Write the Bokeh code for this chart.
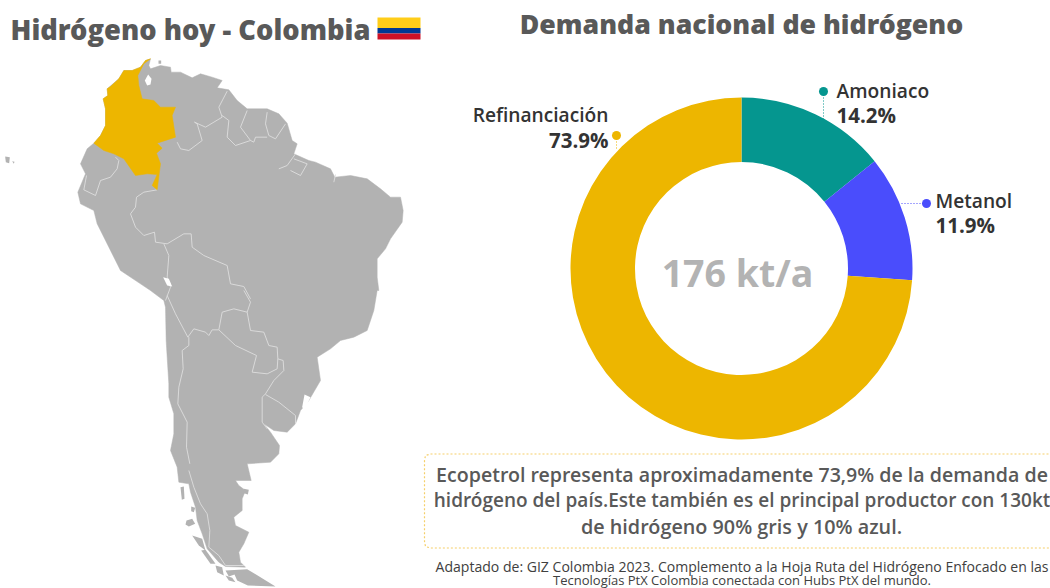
import numpy as np
from bokeh.plotting import figure
from bokeh.models import Range1d
from bokeh.core.properties import value
from bokeh.embed import file_html
from bokeh.resources import INLINE

# ---- data ----
categories = ["Amoniaco", "Metanol", "Refinanciación"]
shares = [14.2, 11.9, 73.9]
share_labels = ["14.2%", "11.9%", "73.9%"]
colors = ["#05968F", "#4A4DFC", "#EDB600"]
total_label = "176 kt/a"
title_left = "Hidrógeno hoy - Colombia"
title_right = "Demanda nacional de hidrógeno"
note_lines = ["Ecopetrol representa aproximadamente 73,9% de la demanda de",
              "hidrógeno del país.Este también es el principal productor con 130kt",
              "de hidrógeno 90% gris y 10% azul."]
source_lines = ["Adaptado de: GIZ Colombia 2023. Complemento a la Hoja Ruta del Hidrógeno Enfocado en las",
                "Tecnologías PtX Colombia conectada con Hubs PtX del mundo."]

# map outlines (page pixels)
z1 = lambda pts: [(a / 3, b / 3) for a, b in pts]
z2 = lambda pts: [(a / 3 + 100, b / 3 + 290) for a, b in pts]
z3 = lambda pts: [(a / 3 + 160, b / 3 + 470) for a, b in pts]
continent = z1([(280,428),(300,405),(315,375),(315,325),(308,295),(322,285),(320,265),(355,235),(370,210),(395,210),(420,200),(435,180),(450,175),
    (445,195),(450,205),(480,195),(510,200),(512,215),(540,215),(575,232),(600,220),(635,230),(665,240),(650,262),(685,268),(710,300),(740,325),
    (800,325),(835,340),(860,368),(875,420),(890,430),(880,460),(925,480),(945,485),(990,505),(1003,530),(1050,525),(1100,535),(1140,565),(1170,590),
    (1200,590),(1208,630),(1205,665),(1170,715),(1155,745),(1130,775),(1130,830),(1135,870)]) + z2([(830,0),(820,60),(800,120),(760,140),(720,150),
    (690,175),(650,200),(660,270),(625,330),(600,360),(585,400),(560,425),(520,420),(490,400),(510,425),(537,465),(535,490),(510,515),(440,520),
    (452,570)]) + z3([(225,30),(235,45),(255,60),(245,85),(245,120),(220,140),(225,165),(265,185),(250,220),(235,245),(240,275),(255,290),
    (195,288),(175,275),(140,235),(125,190),(110,150),(105,110),(90,65),(85,40),(55,35)]) + z2([(230,530),(210,480),(220,430),(220,370),(205,320),(205,280),
    (200,200),(197,150),(195,50),(190,30),(150,0)]) + z1([(420,850),(360,810),(350,790),(320,730),(290,670),(280,630),(240,610),(232,575),(255,520),(240,490),(260,445)])
colombia = z1([(450,175),(435,180),(420,200),(395,210),(370,210),(355,235),(330,258),(320,265),(322,285),(308,295),(315,325),(315,375),(300,405),(280,428),
    (310,450),(340,460),(370,475),(405,525),(440,520),(470,522),(455,555),(470,568),(480,490),(468,458),(485,443),(470,428),(525,410),(515,345),(525,320),
    (480,320),(460,300),(425,295),(415,255),(412,225),(430,190)])
islands = [z3(p) for p in [[(60,50),(70,48),(72,85),(64,88)],
    [(92,108),(104,112),(100,125),(92,122)],[(78,150),(95,145),(104,160),(85,168),(75,162)],
    [(95,195),(125,205),(135,240),(115,225)],[(122,240),(135,238),(165,280),(150,280)],[(165,285),(185,290),(190,315),(170,305)],
    [(195,300),(260,296),(345,348),(262,345),(230,330),(222,312),(205,318)],[(195,315),(215,322),(225,335),(205,330)],
    [(250,55),(265,58),(262,72),(250,68)]]] + \
    [z1(p) for p in [[(14,468),(28,470),(26,488),(16,485)],[(35,482),(42,484),(40,490)],[(474,180),(482,180),(482,190),(474,190)]]]
lakes = [z1([(443,222),(453,235),(450,252),(440,255),(433,240)]),
         z1([(488,830),(505,835),(515,858),(500,855)]),
         z2([(612,312),(630,320),(612,358),(605,350)])]
borders = [z1(p) for p in [
    [(345,470),(355,480),(350,505),(330,530),(300,540),(285,585),(250,568),(258,525)],
    [(470,568),(430,575),(408,590),(405,620),(390,640),(405,680),(430,705),(462,695),(465,725),(500,730),(550,700),(572,700),(575,740),(610,765),(680,795),(690,850),(730,858),(750,895)],
    [(490,730),(505,765),(500,830),(510,860),(495,900)],
    [(530,425),(540,445),(565,450),(605,420),(590,370),(582,365),(615,380),(665,350),(655,320),(680,272)],
    [(665,345),(685,360),(680,410),(705,435),(750,420),(720,380),(740,330)],
    [(800,335),(795,370),(805,405),(825,415),(855,370)],
    [(750,420),(760,425),(765,410),(800,410)],
    [(835,505),(860,495),(885,460)],[(870,510),(900,525),(920,490),(880,475)],[(1000,545),(1005,522)]]] + [z2(p) for p in [
    [(430,0),(450,35),(440,65),(450,120),(490,125),(505,165),(530,170),(532,205),(548,210),(550,240),(520,270),(495,310),(485,320),(485,395),(500,415)],
    [(495,312),(535,335),(585,375),(585,400)],
    [(440,65),(400,55),(365,65),(355,118),(335,118),(325,135),(315,125),(280,115),(262,140),(225,70),(200,15)],
    [(355,118),(405,165),(468,195),(455,245),(500,250),(530,235),(532,205)],
    [(265,140),(265,165),(245,180),(248,235),(235,290),(232,340),(260,395),(258,470),(268,520)]]] + \
    [z3([(85,0),(100,50),(120,100),(140,130),(148,180),(145,230),(175,255),(195,285),(250,285)])]

FONT = "Open Sans"
FONT_HEAVY = "Open Sans ExtraBold, Open Sans"
FONT_SEMI = "Open Sans SemiBold, Open Sans"
p = figure(width=1050, height=588, x_range=Range1d(0, 1050), y_range=Range1d(588, 0),
           output_backend="svg", toolbar_location=None, min_border=0,
           background_fill_color="white", border_fill_color="white", outline_line_color=None)
p.axis.visible = False
p.grid.visible = False

# ---- map ----
GRAY = "#B2B2B2"
xy = lambda pts: ([a for a, _ in pts], [b for _, b in pts])
xs, ys = xy(continent)
p.patch(xs, ys, fill_color=GRAY, line_color=GRAY, line_width=0.5)
for poly in islands:
    xs, ys = xy(poly)
    p.patch(xs, ys, fill_color=GRAY, line_color=None)
for poly in borders:
    xs, ys = xy(poly)
    p.line(xs, ys, line_color="#DEDEDE", line_width=0.9)
for poly in lakes:
    xs, ys = xy(poly)
    p.patch(xs, ys, fill_color="white", line_color=None)
xs, ys = xy(colombia)
p.patch(xs, ys, fill_color=colors[2], line_color=colors[2], line_width=0.5)

# ---- flag ----
flag_colors = ["#FFCD19", "#003893", "#CE1126"]
p.quad(left=[377] * 3, right=[420] * 3, top=[17, 27.5, 33], bottom=[27.5, 33, 39], fill_color=flag_colors, line_color=None)

# ---- donut ----
cum = np.cumsum([0] + shares) / 100 * 2 * np.pi
start = np.pi / 2 - cum[1:]
end = np.pi / 2 - cum[:-1]
p.annular_wedge(x=[741] * 3, y=[268] * 3, inner_radius=106.5, outer_radius=171, start_angle=start, end_angle=end,
                fill_color=colors, line_color=None)
p.text([737], [272], text=[total_label], text_font=value(FONT), text_font_style="bold", text_font_size="37.5px",
       text_color="#B3B3B3", text_align="center", text_baseline="middle")

# leaders
lx = [[823, 823], [926, 900], [616, 616]]
ly = [[91, 121], [203, 203], [135, 150]]
p.multi_line(lx, ly, line_color=colors, line_width=1, line_dash="1 2")
p.scatter([823, 926, 616], [91, 203, 135], size=9, fill_color=colors, line_color=None)

def txt(x, y, t, size, color, bold=False, align="left", font=FONT):
    p.text([x], [y], text=[t], text_font=value(font), text_font_style="bold" if bold else "normal",
           text_font_size=f"{size}px", text_color=color, text_align=align, text_baseline="middle")

DARK = "#333333"
txt(836, 90, categories[0], 19.2, DARK, font=FONT_SEMI)
txt(836, 114, share_labels[0], 20.5, DARK, True)
txt(935, 200, categories[1], 19.2, DARK, font=FONT_SEMI)
txt(935, 224, share_labels[1], 20.5, DARK, True)
txt(608, 114, categories[2], 19.2, DARK, align="right", font=FONT_SEMI)
txt(608, 139, share_labels[2], 20.5, DARK, True, "right")

txt(10, 29, title_left, 27.3, "#595959", font=FONT_HEAVY)
txt(741, 23, title_right, 26.7, "#595959", align="center", font=FONT_HEAVY)

# ---- note box ----
bx = [1052, 430, 425, 424, 424, 425, 430, 1052]
by = [453.5, 453.5, 455, 460, 541, 546, 547.5, 547.5]
p.line(bx, by, line_color="#F5CF6A", line_width=1.2, line_dash="2 2")
txt(741.5, 474, note_lines[0], 19.6, "#595959", align="center", font=FONT_SEMI)
txt(741.5, 499, note_lines[1], 19, "#595959", align="center", font=FONT_SEMI)
txt(741, 526, note_lines[2], 19.8, "#595959", align="center", font=FONT_SEMI)
txt(741.5, 565.5, source_lines[0], 14.05, "#404040", align="center")
txt(741.5, 579, source_lines[1], 13, "#404040", align="center")

open("out.html", "w").write(file_html(p, INLINE))
